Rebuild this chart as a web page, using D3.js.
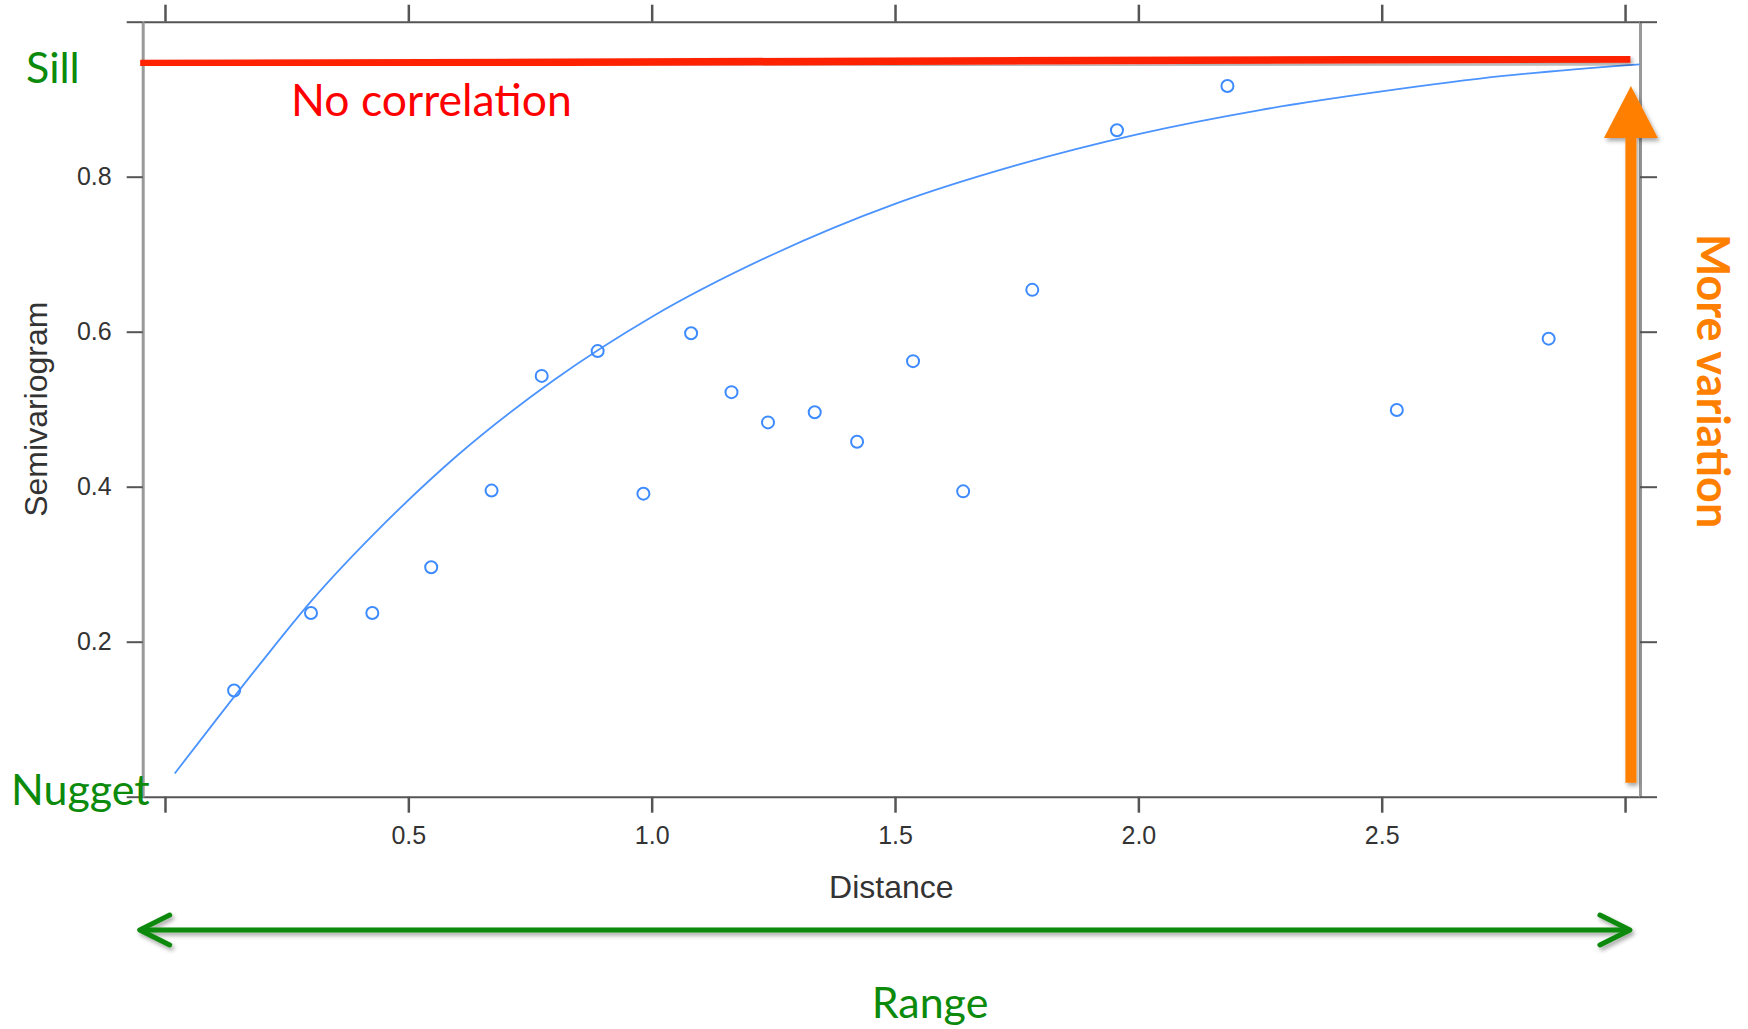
<!DOCTYPE html>
<html>
<head>
<meta charset="utf-8">
<script src="https://cdn.jsdelivr.net/npm/d3@7"></script>
<style>
body { margin: 0; background: #fff; }
svg { display: block; }
.axis text { font-family: "Liberation Sans", Arial, sans-serif; fill: #333; }
.note { font-family: Lato, "Open Sans", sans-serif; }
</style>
</head>
<body>
<svg id="chart" width="1748" height="1029"></svg>
<script>
// empirical semivariogram (distance, semivariance)
var distances = [0.142, 0.300, 0.426, 0.547, 0.671, 0.774, 0.889, 0.983, 1.081, 1.164,
                 1.239, 1.335, 1.422, 1.537, 1.640, 1.782, 1.956, 2.183, 2.531, 2.843];
var semivariance = [0.137, 0.237, 0.237, 0.296, 0.395, 0.543, 0.575, 0.391, 0.598, 0.522,
                    0.483, 0.496, 0.458, 0.562, 0.394, 0.654, 0.860, 0.917, 0.499, 0.591];

// fitted model curve
var modelDistances = [0.02, 0.1, 0.2, 0.3, 0.45, 0.6, 0.8, 1.0, 1.25, 1.5, 1.75, 2.0, 2.25, 2.5, 2.75, 3.03];
var modelValues = [0.03, 0.095, 0.175, 0.252, 0.352, 0.44, 0.538, 0.619, 0.70, 0.765, 0.815, 0.855, 0.886, 0.91, 0.93, 0.945];

var xTicks = [0, 0.5, 1, 1.5, 2, 2.5, 3];
var xTickLabels = ["", "0.5", "1.0", "1.5", "2.0", "2.5", ""];
var yTicks = [0, 0.2, 0.4, 0.6, 0.8, 1];
var yTickLabels = ["", "0.2", "0.4", "0.6", "0.8", ""];

// annotations, in data units
var sillLine = [[-0.051, 0.946], [3.011, 0.952]];
var variationArrow = { x: 3.012, from: 0.018, to: 0.917 };
var rangeArrow = { from: -0.052, to: 3.01 };

var plotLeft = 142.7, plotRight = 1640, plotTop = 21.7, plotBottom = 796.7;
var svg = d3.select("#chart");

var x = d3.scaleLinear().domain([-0.0458, 3.0307]).range([plotLeft, plotRight]);
var y = d3.scaleLinear().domain([0, 1]).range([plotBottom, plotTop]);

var defs = svg.append("defs");
defs.append("filter").attr("id", "shadow")
    .attr("x", "-20%").attr("y", "-50%").attr("width", "140%").attr("height", "200%")
    .append("feDropShadow")
        .attr("dx", 2).attr("dy", 3).attr("stdDeviation", 2)
        .attr("flood-color", "#000").attr("flood-opacity", 0.35);

var fmtX = function(d, i) { return xTickLabels[i]; };
var fmtY = function(d, i) { return yTickLabels[i]; };

var axes = svg.append("g").attr("class", "axis");
var gb = axes.append("g").attr("transform", "translate(0," + plotBottom + ")")
    .call(d3.axisBottom(x).tickValues(xTicks).tickFormat(fmtX).tickSize(16).tickSizeOuter(0).tickPadding(14));
var gt = axes.append("g").attr("transform", "translate(0," + plotTop + ")")
    .call(d3.axisTop(x).tickValues(xTicks).tickFormat("").tickSize(17).tickSizeOuter(0));
var gl = axes.append("g").attr("transform", "translate(" + plotLeft + ",0)")
    .call(d3.axisLeft(y).tickValues(yTicks).tickFormat(fmtY).tickSize(16).tickSizeOuter(0).tickPadding(15));
var gr = axes.append("g").attr("transform", "translate(" + plotRight + ",0)")
    .call(d3.axisRight(y).tickValues(yTicks).tickFormat("").tickSize(17).tickSizeOuter(0));

axes.selectAll("text").attr("font-size", 25);
[gb, gt].forEach(function(g) {
    g.select(".domain").attr("stroke", "#555").attr("stroke-width", 2);
    g.selectAll(".tick line").attr("stroke", "#555").attr("stroke-width", 2.5);
});
[gl, gr].forEach(function(g) {
    g.select(".domain").attr("stroke", "#999").attr("stroke-width", 3);
    g.selectAll(".tick line").attr("stroke", "#555").attr("stroke-width", 2);
});

axes.append("text")
    .attr("x", (plotLeft + plotRight) / 2).attr("y", 898)
    .attr("text-anchor", "middle").attr("font-size", 32).attr("fill", "#222")
    .text("Distance");
axes.append("text")
    .attr("transform", "translate(47," + (plotTop + plotBottom) / 2 + ") rotate(-90)")
    .attr("text-anchor", "middle").attr("font-size", 32).attr("fill", "#222")
    .text("Semivariogram");

// model curve
var line = d3.line()
    .x(function(d) { return x(d[0]); })
    .y(function(d) { return y(d[1]); })
    .curve(d3.curveMonotoneX);
svg.append("path")
    .datum(d3.zip(modelDistances, modelValues))
    .attr("d", line)
    .attr("fill", "none").attr("stroke", "#4b93ff").attr("stroke-width", 1.8);

svg.selectAll("circle.pt")
    .data(d3.zip(distances, semivariance))
    .enter()
    .append("circle")
        .attr("class", "pt")
        .attr("cx", function(d) { return x(d[0]); })
        .attr("cy", function(d) { return y(d[1]); })
        .attr("r", 6)
        .attr("fill", "none").attr("stroke", "#3d8bff").attr("stroke-width", 2);

// sill
svg.append("line")
    .attr("x1", x(sillLine[0][0])).attr("y1", y(sillLine[0][1]))
    .attr("x2", x(sillLine[1][0])).attr("y2", y(sillLine[1][1]))
    .attr("stroke", "#ff2200").attr("stroke-width", 7.5)
    .attr("filter", "url(#shadow)");

// more variation arrow
var ax = x(variationArrow.x), apex = y(variationArrow.to), headH = 52, headW = 27;
var varArrow = svg.append("g").attr("filter", "url(#shadow)");
varArrow.append("line")
    .attr("x1", ax).attr("x2", ax)
    .attr("y1", y(variationArrow.from)).attr("y2", apex + headH - 1)
    .attr("stroke", "#ff7f00").attr("stroke-width", 11);
varArrow.append("path")
    .attr("d", "M" + ax + "," + apex + "L" + (ax + headW) + "," + (apex + headH) + "L" + (ax - headW) + "," + (apex + headH) + "Z")
    .attr("fill", "#ff7f00");

// range arrow
var ry = 930, x0 = x(rangeArrow.from), x1 = x(rangeArrow.to);
var rng = svg.append("g").attr("filter", "url(#shadow)")
    .attr("fill", "none").attr("stroke", "#0b8a0b").attr("stroke-width", 5)
    .attr("stroke-linecap", "round").attr("stroke-linejoin", "round");
rng.append("line").attr("x1", x0 + 2).attr("x2", x1 - 2).attr("y1", ry).attr("y2", ry);
rng.append("path").attr("d", "M" + (x0 + 30) + "," + (ry - 15) + "L" + x0 + "," + ry + "L" + (x0 + 30) + "," + (ry + 15));
rng.append("path").attr("d", "M" + (x1 - 30) + "," + (ry - 15) + "L" + x1 + "," + ry + "L" + (x1 - 30) + "," + (ry + 15));

// annotation text
var notes = svg.append("g").attr("class", "note").attr("font-size", 43);
notes.append("text").attr("x", 26).attr("y", 83).attr("fill", "#0b8a0b").text("Sill");
notes.append("text").attr("x", 11).attr("y", 805).attr("fill", "#0b8a0b").text("Nugget");
notes.append("text").attr("x", 930).attr("y", 1018).attr("text-anchor", "middle").attr("fill", "#0b8a0b").text("Range");
notes.append("text").attr("x", x(0.259)).attr("y", 116).attr("font-size", 44.5).attr("fill", "#ff0000").text("No correlation");
notes.append("text")
    .attr("transform", "translate(1697,381) rotate(90)")
    .attr("text-anchor", "middle").attr("font-weight", "bold").attr("font-size", 45)
    .attr("fill", "#ff7f00")
    .text("More variation");
</script>
</body>
</html>
